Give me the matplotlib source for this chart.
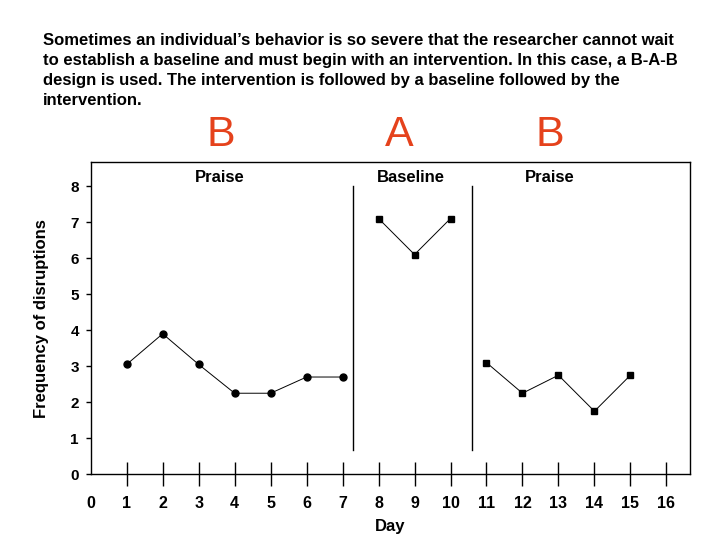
import matplotlib
matplotlib.use('Agg')
import matplotlib.pyplot as plt

plt.rcParams['font.family'] = ['Liberation Sans', 'DejaVu Sans']

# data
days_praise1 = [1, 2, 3, 4, 5, 6, 7]
freq_praise1 = [3.05, 3.9, 3.05, 2.25, 2.25, 2.7, 2.7]
days_baseline = [8, 9, 10]
freq_baseline = [7.1, 6.1, 7.1]
days_praise2 = [11, 12, 13, 14, 15]
freq_praise2 = [3.1, 2.25, 2.75, 1.75, 2.75]

phase_breaks = [7.3, 10.6]
phase_names = ['Praise', 'Baseline', 'Praise']
phase_label_x = [3.6, 8.9, 12.75]
phase_letters = ['B', 'A', 'B']

title_lines = [
    "Sometimes an individual\u2019s behavior is so severe that the researcher cannot wait",
    "to establish a baseline and must begin with an intervention. In this case, a B-A-B",
    "design is used. The intervention is followed by a baseline followed by the",
    "intervention.",
]

red = '#E5421C'

fig = plt.figure(figsize=(7.2, 5.4), dpi=100)
ax = fig.add_axes([0.126, 0.1217, 0.832, 0.5777])

# slide text
for i, line in enumerate(title_lines):
    fig.text(43 / 720, 1 - (45 + 20 * i) / 540, line, fontsize=12,
             fontweight='bold', ha='left', va='baseline')

letter_px = [220.5, 399, 549.5]
for lx, letter in zip(letter_px, phase_letters):
    fig.text(lx / 720, 1 - 135 / 540, letter, fontsize=31, color=red,
             ha='center', va='center')

ax.plot(days_praise1, freq_praise1, color='black', lw=0.7,
        marker='o', ms=5)
ax.plot(days_baseline, freq_baseline, color='black', lw=0.7,
        marker='s', ms=4.5)
ax.plot(days_praise2, freq_praise2, color='black', lw=0.7,
        marker='s', ms=4.5)

for xb in phase_breaks:
    ax.plot([xb, xb], [0.67, 8.0], color='black', lw=1.0)

for px, name in zip(phase_label_x, phase_names):
    ax.text(px, 8.25, name, fontsize=12, fontweight='bold',
            ha='center', va='center')

ax.set_xlim(0, 16.65)
ax.set_ylim(0, 8.66)
ax.set_xticks(range(0, 17))
ax.set_yticks(range(0, 9))

ax.tick_params(axis='x', direction='inout', length=17, width=1.0,
               pad=7, labelsize=11.5)
ax.tick_params(axis='y', direction='out', length=3.6, width=1.0,
               pad=5, labelsize=11)
for lab in ax.get_xticklabels() + ax.get_yticklabels():
    lab.set_fontweight('bold')
# no tick mark at x = 0
ax.xaxis.get_major_ticks()[0].tick1line.set_visible(False)

for sp in ax.spines.values():
    sp.set_linewidth(1.0)

ax.set_xlabel('Day', fontsize=12, fontweight='bold', labelpad=6)
ax.set_ylabel('Frequency of disruptions', fontsize=12, fontweight='bold',
              labelpad=15)

fig.savefig('out.png', dpi=100)
